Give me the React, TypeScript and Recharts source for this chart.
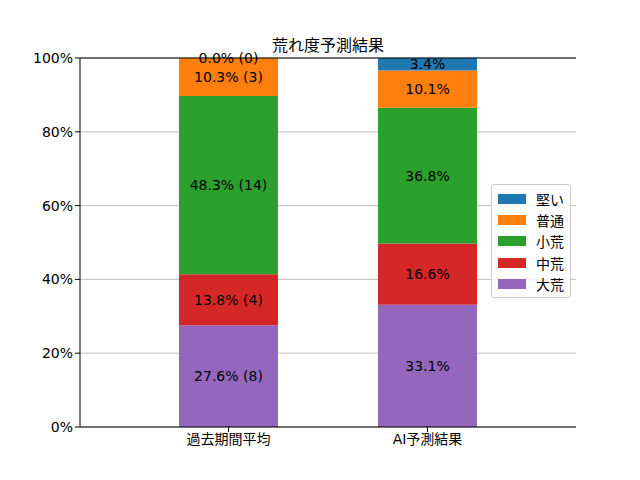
import { Bar, BarChart, CartesianGrid, LabelList, ReferenceDot, ReferenceLine, XAxis, YAxis } from "recharts";

const categories = ["過去期間平均", "AI予測結果"];
const seriesNames = ["大荒", "中荒", "小荒", "普通", "堅い"];
const seriesColors = ["#9467bd", "#d62728", "#2ca02c", "#ff7f0e", "#1f77b4"];
const pastPct = [27.6, 13.8, 48.3, 10.3, 0.0];
const pastCount = [8, 4, 14, 3, 0];
const aiPct = [33.1, 16.6, 36.8, 10.1, 3.4];
const yTicks = [0, 20, 40, 60, 80, 100];

const FONT = "'DejaVu Sans', 'Noto Sans CJK JP', sans-serif";

const chartData = categories.map((name, ci) => {
  const row: Record<string, string | number> = { name };
  seriesNames.forEach((s, si) => {
    row[s] = ci === 0 ? pastPct[si] : aiPct[si];
  });
  return row;
});

const pastText = (si: number) => `${pastPct[si].toFixed(1)}% (${pastCount[si]})`;
const aiText = (si: number) => `${aiPct[si].toFixed(1)}%`;

// zero-height segments are not drawn by the Bar, so their label is placed at the stack top
const zeroLabels = seriesNames
  .map((_, si) => si)
  .filter((si) => pastPct[si] === 0)
  .map((si) => ({ si, y: pastPct.slice(0, si + 1).reduce((a, b) => a + b, 0) }));

function makeLabel(si: number) {
  return (props: any) => {
    const { x, y, width, height } = props;
    const cx = Number(x) + Number(width) / 2;
    const isPast = props.payload?.name ? props.payload.name === categories[0] : cx < 328;
    return (
      <text
        x={cx}
        y={Number(y) + Number(height) / 2}
        textAnchor="middle"
        dominantBaseline="central"
        fontSize={14}
        fontFamily={FONT}
        fill="#000"
      >
        {isPast ? pastText(si) : aiText(si)}
      </text>
    );
  };
}

function LegendBox() {
  const items = seriesNames.map((n, i) => ({ n, c: seriesColors[i] })).reverse();
  return (
    <div
      style={{
        position: "absolute",
        left: 491,
        top: 184,
        background: "rgba(255,255,255,0.8)",
        border: "1px solid #cccccc",
        borderRadius: 3,
        padding: "3px 6px 3px 6px",
        width: 66,
      }}
    >
      {items.map((it) => (
        <div key={it.n} style={{ display: "flex", alignItems: "center", height: 21.3 }}>
          <span style={{ display: "inline-block", width: 28, height: 10, background: it.c, marginRight: 10 }} />
          <span style={{ fontFamily: FONT, fontSize: 14, color: "#000" }}>{it.n}</span>
        </div>
      ))}
    </div>
  );
}

export default function App() {
  return (
    <div style={{ position: "absolute", left: 0, top: 0, width: 640, height: 480, background: "#fff" }}>
      <div
        style={{
          position: "absolute",
          left: 80,
          width: 496,
          top: 32,
          textAlign: "center",
          fontFamily: FONT,
          fontSize: 16,
          color: "#000",
        }}
      >
        荒れ度予測結果
      </div>
      <BarChart width={640} height={480} data={chartData} margin={{ top: 58, right: 64, bottom: 0, left: 0 }}>
        <CartesianGrid vertical={false} stroke="#b0b0b0" strokeWidth={0.8} />
        <XAxis
          dataKey="name"
          height={53}
          padding={{ left: 49, right: 49 }}
          tickSize={5}
          tick={{ fill: "#000", fontSize: 14, fontFamily: FONT }}
          axisLine={{ stroke: "#000" }}
          tickLine={{ stroke: "#000" }}
        />
        <XAxis xAxisId="top" orientation="top" dataKey="name" height={0} tick={false} tickLine={false} axisLine={{ stroke: "#000" }} />
        <YAxis
          width={80}
          domain={[0, 100]}
          ticks={yTicks}
          tickFormatter={(v) => `${v}%`}
          tickSize={5}
          tick={{ fill: "#000", fontSize: 14, fontFamily: FONT }}
          axisLine={{ stroke: "#000" }}
          tickLine={{ stroke: "#000" }}
          allowDataOverflow
        />
        <YAxis yAxisId="right" orientation="right" width={0} tick={false} tickLine={false} axisLine={{ stroke: "#000" }} />
        {seriesNames.map((s, si) => (
          <Bar key={s} dataKey={s} stackId="a" fill={seriesColors[si]} barSize={99} isAnimationActive={false}>
            <LabelList dataKey={s} content={makeLabel(si)} />
          </Bar>
        ))}
        <ReferenceLine y={100} stroke="#000" />
        {zeroLabels.map((z) => (
          <ReferenceDot
            key={z.si}
            x={categories[0]}
            y={z.y}
            r={0}
            stroke="none"
            fill="none"
            ifOverflow="visible"
            label={{ value: pastText(z.si), position: "center", fontSize: 14, fontFamily: FONT, fill: "#000" }}
          />
        ))}
      </BarChart>
      <LegendBox />
    </div>
  );
}
